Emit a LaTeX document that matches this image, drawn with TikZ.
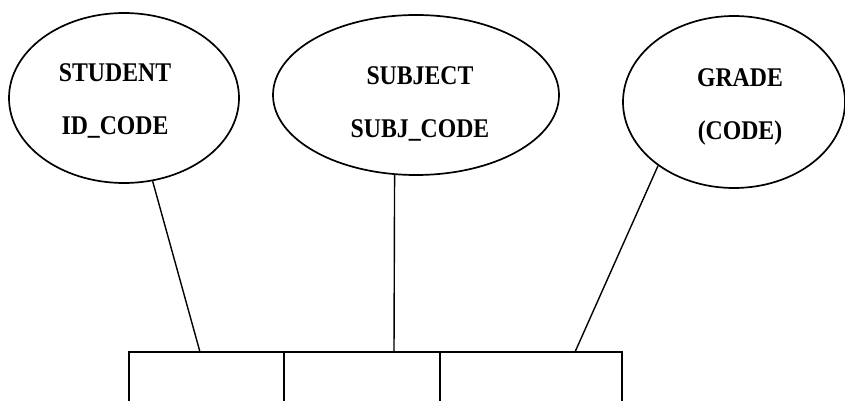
\documentclass[tikz,border=0pt]{standalone}
\usepackage{fontspec}
\setmainfont{Liberation Serif}[FakeStretch=0.88]
\usetikzlibrary{shapes.geometric,positioning}

\begin{document}
\begin{tikzpicture}[x=1pt, y=-1pt,
    ent/.style={ellipse, draw, line width=1.7pt, inner sep=0pt},
    lbl/.style={align=center, inner sep=0pt,
        font=\fontsize{27}{53}\selectfont\bfseries},
    cell/.style={rectangle, draw, line width=1.7pt, inner sep=0pt, outer sep=0pt,
        minimum height=110pt, anchor=north west}]

    \useasboundingbox (0,0) rectangle (845,401);
    \clip (0,0) rectangle (845,401);

    \node[ent, minimum width=230pt, minimum height=170pt] (student) at (124,98) {};
    \node[ent, minimum width=286pt, minimum height=160pt] (subject) at (416,95) {};
    \node[ent, minimum width=222pt, minimum height=172pt] (grade) at (734,102) {};

    \node[lbl] (studtxt) at (115,101) {STUDENT\\ID\_CODE};
    \node[lbl] (subjtxt) at (420,104) {SUBJECT\\SUBJ\_CODE};
    \node[lbl] (gradetxt) at (740,107) {GRADE\\(CODE)};

    \node[cell, minimum width=155pt] (c1) at (129,352) {};
    \node[cell, minimum width=156pt, right=0pt of c1.north east, anchor=north west] (c2) {};
    \node[cell, minimum width=182pt, right=0pt of c2.north east, anchor=north west] (c3) {};

    \coordinate (t1) at (200,352);
    \coordinate (t2) at (394,352);
    \coordinate (t3) at (575,352);

    \draw[line width=1.4pt] (student.-71) -- (t1);
    \draw[line width=1.4pt] (subject.-105) -- (t2);
    \draw[line width=1.4pt] (grade.-140) -- (t3);

\end{tikzpicture}
\end{document}
